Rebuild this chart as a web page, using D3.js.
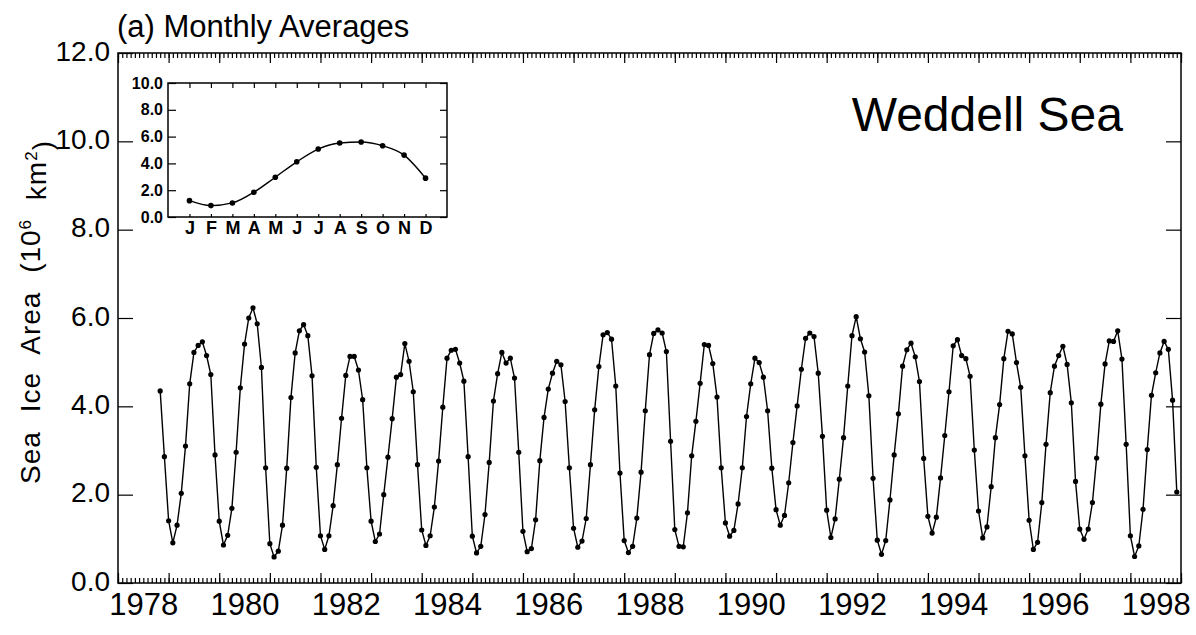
<!DOCTYPE html>
<meta charset="utf-8">
<style>
body { margin: 0; background: #fff; }
svg { display: block; font-family: "Liberation Sans", Arial, Helvetica, sans-serif; }
.frame { fill: none; stroke: #000; stroke-width: 1.5px; }
.series { fill: none; stroke: #000; stroke-width: 1.4px; }
.dot { fill: #000; }
.axis path { display: none; }
.axis line { stroke: #000; stroke-width: 1.2px; }
.axis text { fill: #000; }
</style>
<body>
<svg width="1196" height="635"></svg>
<script src="https://d3js.org/d3.v7.min.js"></script>
<script>

// monthly averages of sea ice area (10^6 km^2), one list per year, Jan..Dec
// (1978 starts in November)
var ice1978 = [4.35, 2.86];
var ice1979 = [1.41, 0.91, 1.31, 2.03, 3.10, 4.51, 5.22, 5.38, 5.46, 5.15, 4.72, 2.90];
var ice1980 = [1.40, 0.86, 1.08, 1.69, 2.96, 4.42, 5.41, 6.00, 6.23, 5.87, 4.88, 2.61];
var ice1981 = [0.89, 0.59, 0.72, 1.31, 2.60, 4.20, 5.21, 5.71, 5.85, 5.60, 4.69, 2.62];
var ice1982 = [1.07, 0.76, 1.07, 1.75, 2.68, 3.73, 4.70, 5.13, 5.13, 4.82, 4.15, 2.61];
var ice1983 = [1.40, 0.94, 1.11, 2.00, 2.85, 3.72, 4.66, 4.72, 5.42, 5.02, 4.33, 2.68];
var ice1984 = [1.20, 0.85, 1.07, 1.72, 2.76, 3.98, 5.09, 5.27, 5.29, 4.98, 4.57, 2.86];
var ice1985 = [1.06, 0.68, 0.83, 1.55, 2.73, 4.12, 4.74, 5.22, 4.98, 5.09, 4.64, 2.96];
var ice1986 = [1.17, 0.71, 0.78, 1.43, 2.77, 3.75, 4.39, 4.75, 5.02, 4.94, 4.11, 2.61];
var ice1987 = [1.24, 0.81, 0.95, 1.46, 2.68, 3.92, 4.90, 5.62, 5.67, 5.52, 4.46, 2.49];
var ice1988 = [0.96, 0.69, 0.83, 1.47, 2.51, 3.90, 5.17, 5.65, 5.73, 5.66, 5.24, 3.21];
var ice1989 = [1.21, 0.83, 0.82, 1.59, 2.88, 3.66, 4.52, 5.40, 5.38, 4.97, 4.21, 2.61];
var ice1990 = [1.36, 1.06, 1.19, 1.79, 2.61, 3.77, 4.51, 5.09, 4.99, 4.66, 3.90, 2.60];
var ice1991 = [1.66, 1.31, 1.53, 2.27, 3.18, 4.01, 4.84, 5.54, 5.66, 5.58, 4.75, 3.32];
var ice1992 = [1.65, 1.03, 1.45, 2.35, 3.29, 4.46, 5.60, 6.03, 5.53, 5.23, 4.24, 2.37];
var ice1993 = [0.97, 0.65, 0.96, 1.88, 2.90, 3.83, 4.91, 5.28, 5.43, 5.12, 4.56, 2.82];
var ice1994 = [1.51, 1.13, 1.49, 2.38, 3.34, 4.33, 5.37, 5.51, 5.15, 5.08, 4.68, 3.01];
var ice1995 = [1.63, 1.02, 1.27, 2.18, 3.29, 4.04, 5.08, 5.70, 5.64, 4.99, 4.43, 2.88];
var ice1996 = [1.42, 0.76, 0.92, 1.82, 3.14, 4.31, 4.91, 5.15, 5.36, 4.95, 4.08, 2.30];
var ice1997 = [1.22, 0.99, 1.22, 1.82, 2.83, 4.05, 4.96, 5.48, 5.47, 5.71, 5.07, 3.14];
var ice1998 = [1.07, 0.60, 0.84, 1.67, 3.02, 4.25, 4.76, 5.21, 5.47, 5.29, 4.14, 2.06];

// inset: average seasonal cycle
var monthLabels = ["J", "F", "M", "A", "M", "J", "J", "A", "S", "O", "N", "D"];
var climatology = [1.22, 0.85, 1.05, 1.85, 2.97, 4.12, 5.07, 5.52, 5.60, 5.32, 4.62, 2.90];

var yTicks = [0, 2, 4, 6, 8, 10, 12];
var insetTicks = [0, 2, 4, 6, 8, 10];
var yearLabels = [1978, 1980, 1982, 1984, 1986, 1988, 1990, 1992, 1994, 1996, 1998];

var years = [
  [1978, ice1978], [1979, ice1979], [1980, ice1980], [1981, ice1981], [1982, ice1982],
  [1983, ice1983], [1984, ice1984], [1985, ice1985], [1986, ice1986], [1987, ice1987],
  [1988, ice1988], [1989, ice1989], [1990, ice1990], [1991, ice1991], [1992, ice1992],
  [1993, ice1993], [1994, ice1994], [1995, ice1995], [1996, ice1996], [1997, ice1997],
  [1998, ice1998]
];

// flatten to (decimal year, value)
var series = [];
years.forEach(function(p) {
  var first = 12 - p[1].length;
  p[1].forEach(function(v, i) {
    series.push({t: p[0] + (first + i) / 12, v: v});
  });
});

var svg = d3.select("svg"),
    pLeft = 118, pRight = 1181, pTop = 53, pBottom = 583;

var x = d3.scaleLinear().domain([1978, 1999]).range([pLeft, pRight]),
    y = d3.scaleLinear().domain([0, 12]).range([pBottom, pTop]);

var months = d3.range(0, 253).map(function(m) { return 1978 + m / 12; }),
    yearTicks = d3.range(1978, 2000);

// bottom axis: ticks point up into the plot
svg.append("g").attr("class", "axis").attr("transform", "translate(0," + pBottom + ")")
    .call(d3.axisTop(x).tickValues(months).tickSize(5).tickFormat(""));
svg.append("g").attr("class", "axis").attr("transform", "translate(0," + pBottom + ")")
    .call(d3.axisTop(x).tickValues(yearTicks).tickSize(10).tickFormat(""));
svg.append("g").attr("class", "axis").attr("transform", "translate(0," + pBottom + ")")
    .call(d3.axisBottom(x).tickValues(yearLabels.map(function(d) { return d + 0.5; }))
      .tickSize(0).tickPadding(10).tickFormat(function(d) { return Math.floor(d); }))
    .selectAll("text").style("font-size", "31px");

// top axis: ticks point down
svg.append("g").attr("class", "axis").attr("transform", "translate(0," + pTop + ")")
    .call(d3.axisBottom(x).tickValues(months).tickSize(5).tickFormat(""));
svg.append("g").attr("class", "axis").attr("transform", "translate(0," + pTop + ")")
    .call(d3.axisBottom(x).tickValues(yearTicks).tickSize(10).tickFormat(""));

// left and right axes, ticks inward
svg.append("g").attr("class", "axis").attr("transform", "translate(" + pLeft + ",0)")
    .call(d3.axisRight(y).tickValues(yTicks).tickSize(15).tickFormat(""));
svg.append("g").attr("class", "axis").attr("transform", "translate(" + pLeft + ",0)")
    .call(d3.axisLeft(y).tickValues(yTicks).tickSize(0).tickPadding(8).tickFormat(d3.format(".1f")))
    .selectAll("text").style("font-size", "28px").attr("dy", "0.25em");
svg.append("g").attr("class", "axis").attr("transform", "translate(" + pRight + ",0)")
    .call(d3.axisLeft(y).tickValues(yTicks).tickSize(15).tickFormat(""));

svg.append("rect").attr("class", "frame")
    .attr("x", pLeft).attr("y", pTop).attr("width", pRight - pLeft).attr("height", pBottom - pTop);

// the series
var line = d3.line().x(function(d) { return x(d.t); }).y(function(d) { return y(d.v); });
svg.append("path").datum(series).attr("class", "series").attr("d", line);
svg.selectAll(".dot").data(series).enter().append("circle")
    .attr("class", "dot").attr("r", 2.6)
    .attr("cx", function(d) { return x(d.t); })
    .attr("cy", function(d) { return y(d.v); });

// titles
svg.append("text").attr("x", 117).attr("y", 37)
    .style("font-size", "31px").text("(a) Monthly Averages");
svg.append("text").attr("x", 1123).attr("y", 131).attr("text-anchor", "end")
    .style("font-size", "48px").text("Weddell Sea");

var yt = svg.append("text")
    .attr("transform", "translate(40,312) rotate(-90)")
    .attr("text-anchor", "middle")
    .style("font-size", "28px").style("letter-spacing", "1px").style("word-spacing", "10px");
yt.append("tspan").text("Sea Ice Area  (10");
yt.append("tspan").attr("dy", "-0.55em").style("font-size", "17px").text("6");
yt.append("tspan").attr("dy", "0.55em").text(" km");
yt.append("tspan").attr("dy", "-0.55em").style("font-size", "17px").text("2");
yt.append("tspan").attr("dy", "0.55em").text(")");

// inset
var ix = d3.scaleLinear().domain([0, 13]).range([168, 447]),
    iy = d3.scaleLinear().domain([0, 10]).range([217, 83]);
var inset = svg.append("g");
var monthIdx = d3.range(1, 13);

inset.append("rect").attr("x", 168).attr("y", 83).attr("width", 279).attr("height", 134)
    .attr("fill", "#fff");
inset.append("g").attr("class", "axis").attr("transform", "translate(0,83)")
    .call(d3.axisBottom(ix).tickValues(monthIdx).tickSize(5).tickFormat(""));
inset.append("g").attr("class", "axis").attr("transform", "translate(0,217)")
    .call(d3.axisTop(ix).tickValues(monthIdx).tickSize(3).tickFormat(""));
inset.append("g").attr("class", "axis").attr("transform", "translate(0,217)")
    .call(d3.axisBottom(ix).tickValues(monthIdx).tickSize(0).tickPadding(4)
      .tickFormat(function(d) { return monthLabels[d - 1]; }))
    .selectAll("text").style("font-size", "18px").style("font-weight", "bold");
inset.append("g").attr("class", "axis").attr("transform", "translate(168,0)")
    .call(d3.axisRight(iy).tickValues(insetTicks).tickSize(8).tickFormat(""));
inset.append("g").attr("class", "axis").attr("transform", "translate(168,0)")
    .call(d3.axisLeft(iy).tickValues(insetTicks).tickSize(0).tickPadding(5).tickFormat(d3.format(".1f")))
    .selectAll("text").style("font-size", "16px").style("font-weight", "bold");
inset.append("g").attr("class", "axis").attr("transform", "translate(447,0)")
    .call(d3.axisLeft(iy).tickValues(insetTicks).tickSize(7).tickFormat(""));
inset.append("rect").attr("class", "frame")
    .attr("x", 168).attr("y", 83).attr("width", 279).attr("height", 134);

var iline = d3.line().curve(d3.curveMonotoneX)
    .x(function(d, i) { return ix(i + 1); }).y(function(d) { return iy(d); });
inset.append("path").datum(climatology).attr("class", "series").attr("d", iline);
inset.selectAll(".idot").data(climatology).enter().append("circle")
    .attr("class", "dot").attr("r", 2.8)
    .attr("cx", function(d, i) { return ix(i + 1); })
    .attr("cy", function(d) { return iy(d); });

</script>
</body>
